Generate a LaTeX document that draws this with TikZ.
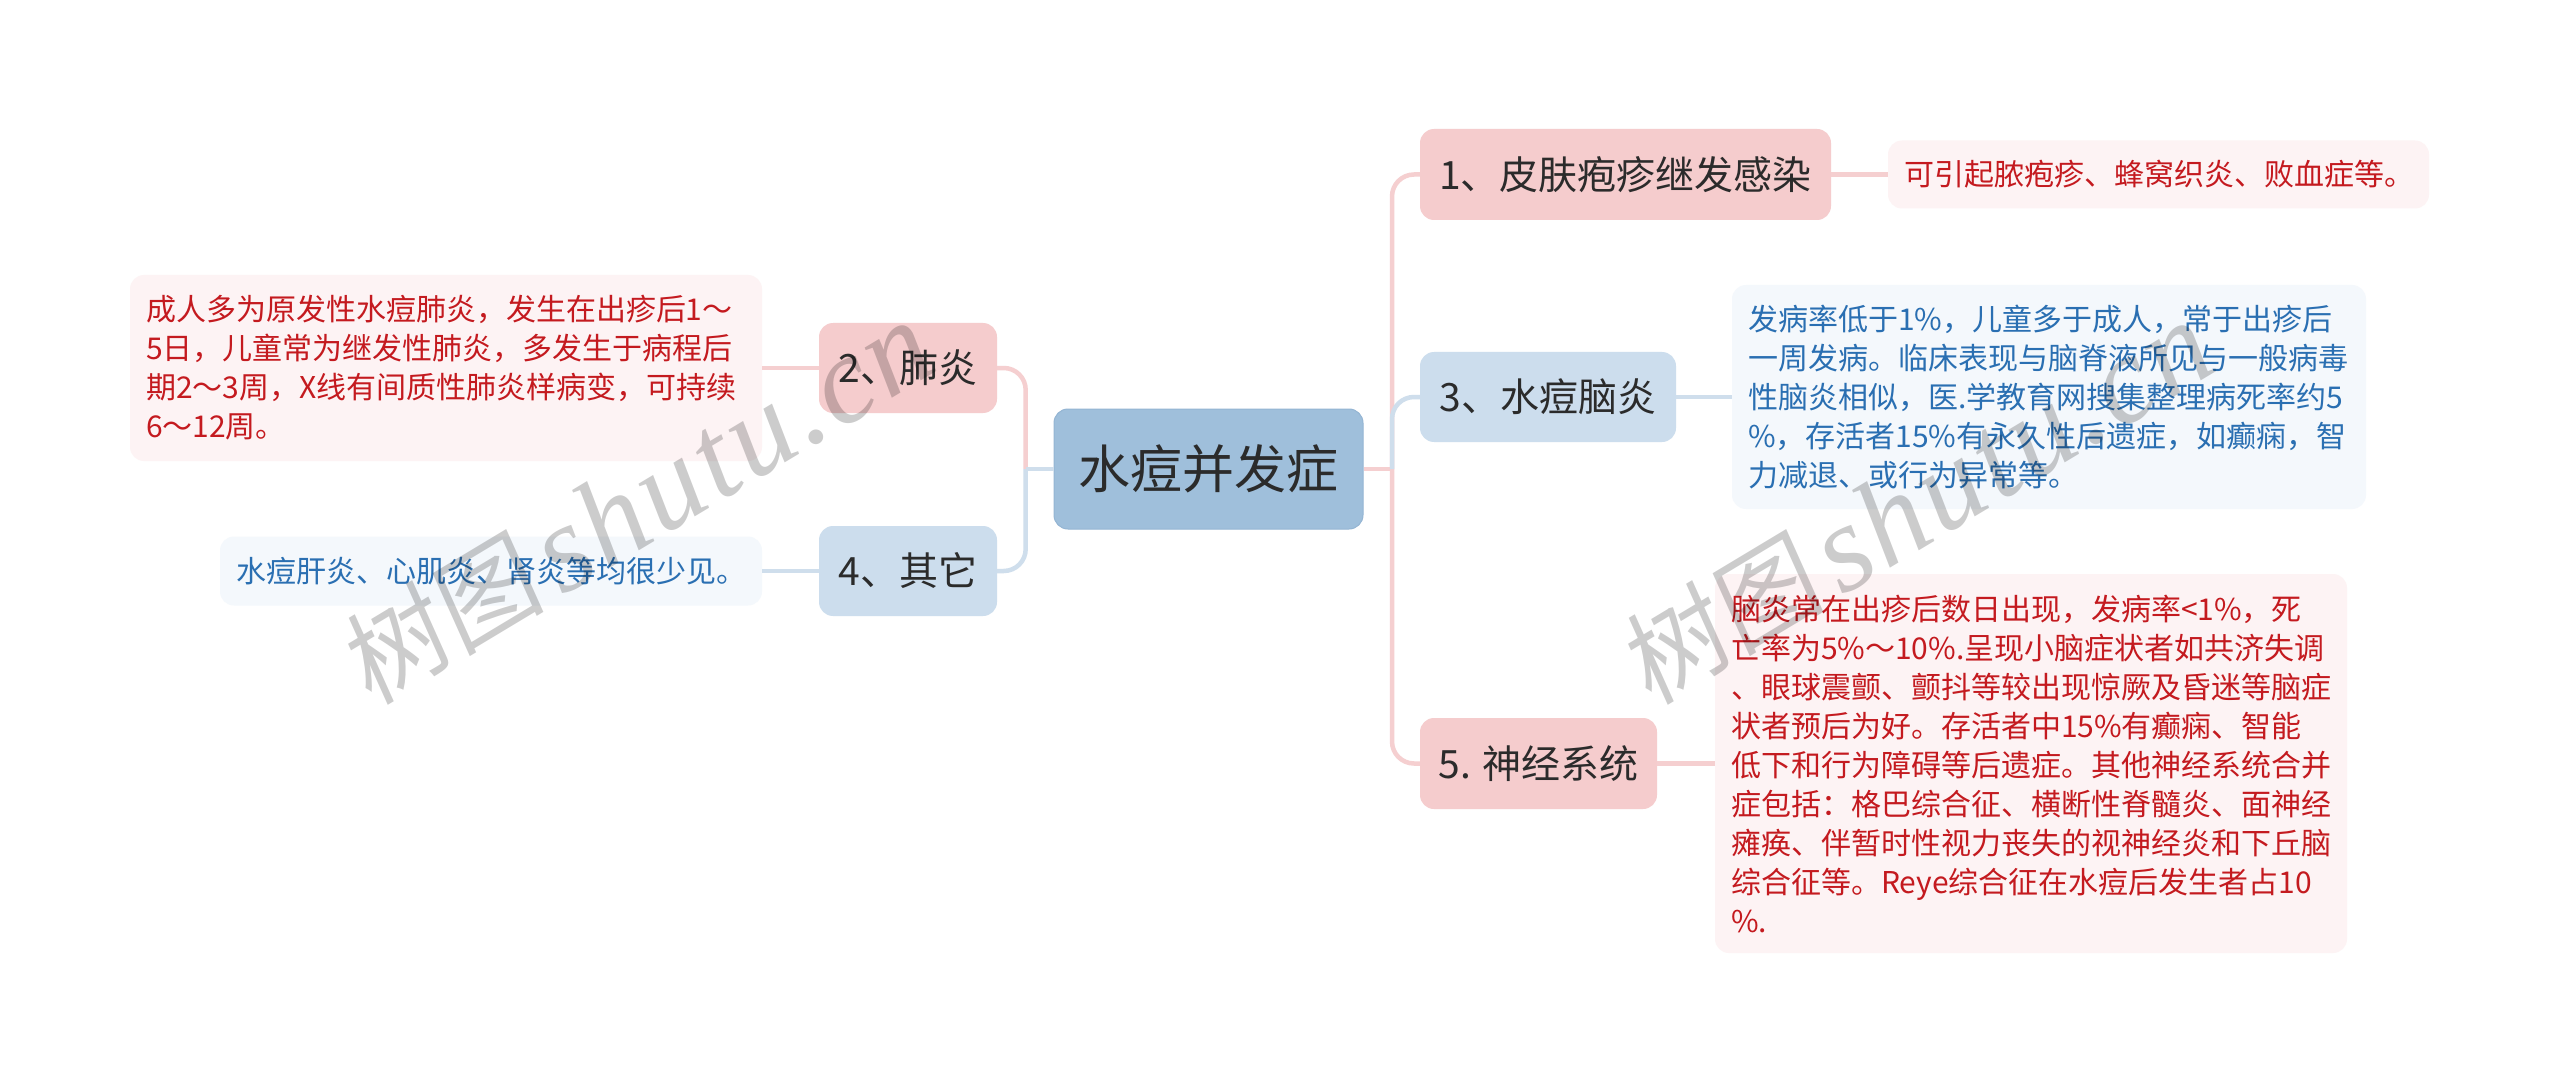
\documentclass[tikz,border=0pt]{standalone}
\usepackage{fontspec}
\setmainfont{Noto Sans CJK SC}
\newfontfamily\wmcjk[FakeSlant=0.12]{Noto Sans CJK SC}
\newfontfamily\wmlatin[LetterSpace=3]{Liberation Serif Italic}
\definecolor{rootfill}{HTML}{9FBFDB}
\definecolor{rootedge}{HTML}{94B5D3}
\definecolor{redtop}{HTML}{F5CCCD}
\definecolor{bluetop}{HTML}{CCDDED}
\definecolor{reddet}{HTML}{FDF3F4}
\definecolor{bluedet}{HTML}{F4F8FC}
\definecolor{redtxt}{HTML}{C41A1F}
\definecolor{bluetxt}{HTML}{2A6FB2}
\definecolor{darktxt}{HTML}{2B2B2B}
\definecolor{redlink}{HTML}{F5CFD0}
\definecolor{bluelink}{HTML}{CFDEEC}
\tikzset{
  rootbox/.style={rectangle,rounded corners=14pt,fill=rootfill,draw=rootedge,line width=1pt,text=darktxt,
    inner sep=0pt,align=center,font={\fontsize{52}{62}\selectfont}},
  topicbox/.style={rectangle,rounded corners=14pt,text=darktxt,inner sep=0pt,align=center,
    font={\fontsize{39}{47}\selectfont}},
  redtopic/.style={topicbox,fill=redtop},
  bluetopic/.style={topicbox,fill=bluetop},
  detailbox/.style={rectangle,rounded corners=14pt,inner xsep=16pt,inner ysep=0pt,align=left,
    font={\fontsize{30}{39}\selectfont}},
  reddetail/.style={detailbox,fill=reddet,text=redtxt},
  bluedetail/.style={detailbox,fill=bluedet,text=bluetxt},
  redline/.style={draw=redlink,line width=4.5pt},
  blueline/.style={draw=bluelink,line width=4.5pt},
  curved/.style={rounded corners=22pt},
  wmtext/.style={text=black,opacity=0.2,inner sep=0pt,rotate=31},
}
\begin{document}
\begin{tikzpicture}[x=1pt,y=-1pt]
\useasboundingbox (0,0) rectangle (2560,1083);
\fill[white] (0,0) rectangle (2560,1083);

\coordinate (rt) at (1392,469);
\coordinate (lt) at (1025.7,469);

\node[rootbox,minimum width=309pt,minimum height=120pt] (root) at (1208.5,469) {水痘并发症};

\node[redtopic,minimum width=411pt,minimum height=91pt] (n1) at (1625.5,174.5) {1、皮肤疱疹继发感染};
\node[bluetopic,minimum width=256pt,minimum height=90pt] (n3) at (1548,397) {3、水痘脑炎};
\node[redtopic,minimum width=237pt,minimum height=91pt] (n5) at (1538.5,763.5) {5. 神经系统};
\node[redtopic,minimum width=178pt,minimum height=90pt] (n2) at (908,368) {2、肺炎};
\node[bluetopic,minimum width=178pt,minimum height=90pt] (n4) at (908,571) {4、其它};

\node[reddetail,text width=509pt,minimum height=68pt] (d1) at (2158.5,174.5) {可引起脓疱疹、蜂窝织炎、败血症等。};
\node[bluedetail,text width=602pt,minimum height=224pt] (d3) at (2049,397) {发病率低于1\%，儿童多于成人，常于出疹后\\一周发病。临床表现与脑脊液所见与一般病毒\\性脑炎相似，医.学教育网搜集整理病死率约5\\\%，存活者15\%有永久性后遗症，如癫痫，智\\力减退、或行为异常等。};
\node[reddetail,text width=600pt,minimum height=379pt] (d5) at (2031,763.5) {脑炎常在出疹后数日出现，发病率<1\%，死\\亡率为5\%～10\%.呈现小脑症状者如共济失调\\、眼球震颤、颤抖等较出现惊厥及昏迷等脑症\\状者预后为好。存活者中15\%有癫痫、智能\\低下和行为障碍等后遗症。其他神经系统合并\\症包括：格巴综合征、横断性脊髓炎、面神经\\瘫痪、伴暂时性视力丧失的视神经炎和下丘脑\\综合征等。Reye综合征在水痘后发生者占10\\\%.};
\node[reddetail,text width=600pt,minimum height=186pt] (d2) at (446,368) {成人多为原发性水痘肺炎，发生在出疹后1～\\5日，儿童常为继发性肺炎，多发生于病程后\\期2～3周，X线有间质性肺炎样病变，可持续\\6～12周。};
\node[bluedetail,text width=510pt,minimum height=69pt] (d4) at (491,571) {水痘肝炎、心肌炎、肾炎等均很少见。};

\draw[redline] (root.east) -- (rt);
\draw[redline,curved] (rt) |- (n1.west);
\draw[redline,curved] (rt) |- (n5.west);
\draw[blueline,curved] (rt) |- (n3.west);
\draw[redline,curved] (lt) |- (n2.east);
\draw[blueline,curved] (lt) |- (n4.east);
\draw[blueline] (root.west) -- (lt);
\draw[redline] (n1.east) -- (d1.west);
\draw[blueline] (n3.east) -- (d3.west);
\draw[redline] (n5.east) -- (d5.west);
\draw[redline] (n2.west) -- (d2.east);
\draw[blueline] (n4.west) -- (d4.east);

\node[wmtext,font={\wmcjk\fontsize{103}{110}\selectfont}] (wa1) at (439,620) {树图};
\node[wmtext,anchor=base west,font={\wmlatin\fontsize{124}{130}\selectfont}] (wa2) at (562,597) {shutu.cn};
\node[wmtext,font={\wmcjk\fontsize{103}{110}\selectfont}] (wb1) at (1719,620) {树图};
\node[wmtext,anchor=base west,font={\wmlatin\fontsize{124}{130}\selectfont}] (wb2) at (1842,597) {shutu.cn};
\end{tikzpicture}
\end{document}
